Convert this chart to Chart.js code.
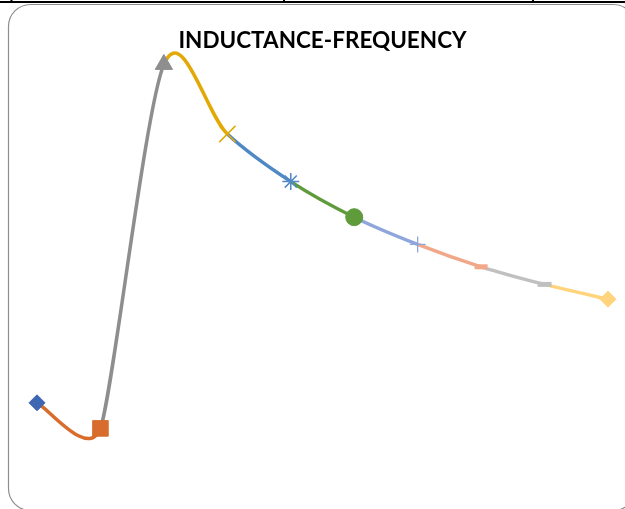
<!DOCTYPE html>
<html>
<head>
<meta charset="utf-8">
<script src="https://cdn.jsdelivr.net/npm/chart.js@4/dist/chart.umd.min.js"></script>
<style>
  html, body { margin: 0; padding: 0; background: #ffffff; }
  #wrap { width: 625px; height: 509px; position: relative; }
</style>
</head>
<body>
<div id="wrap"><canvas id="chart" width="625" height="509"></canvas></div>
<script>
// Measured frequency steps (category axis, not displayed)
const frequencies = ['1', '2', '3', '4', '5', '6', '7', '8', '9', '10'];
// Inductance reading at each step
const inductance = [1.43, 0.79, 9.89, 8.15, 6.96, 6.07, 5.39, 4.83, 4.39, 4.02];

// One colour / marker per series; series n runs from point n-1 to point n
const seriesColors = ['#3F66B2', '#D86C2C', '#8E8E8E', '#E2A906', '#4F88C4',
                      '#5F9B3B', '#8EA6DC', '#F1A889', '#C0C0C0', '#FFD47C'];
const markerStyles = ['rectRot', 'rect', 'triangle', 'crossRot', 'star',
                      'circle', 'cross', 'line', 'line', 'rectRot'];
const markerRadius = [8, 11, 10, 11.5, 8.5, 8.5, 8, 6.5, 7, 8];
const markerBorder = [1, 1, 1, 1.5, 1.5, 1, 1.3, 5, 5, 1];
const filledStyles = ['rectRot', 'rect', 'triangle', 'circle'];

// Spreadsheet-style smoothing: tangent along (next - prev), handle length
// limited to a sixth of that span and half of each neighbouring segment.
const smoothPlugin = {
  id: 'sheetSmoothing',
  beforeDatasetDraw(chart, args) {
    const meta = args.meta;
    const line = meta.dataset;
    if (!line) return;
    line.updateControlPoints(chart.chartArea, 'x');
    const pts = meta.data;
    for (let i = 0; i < pts.length; i++) {
      const cur = pts[i];
      const prev = pts[i - 1] || cur;
      const next = pts[i + 1] || cur;
      const dx = next.x - prev.x, dy = next.y - prev.y;
      const span = Math.hypot(dx, dy) || 1;
      const dPrev = Math.hypot(cur.x - prev.x, cur.y - prev.y);
      const dNext = Math.hypot(next.x - cur.x, next.y - cur.y);
      let len = span / 6;
      if (dPrev > 0) len = Math.min(len, dPrev / 2);
      if (dNext > 0) len = Math.min(len, dNext / 2);
      const ux = dx / span, uy = dy / span;
      cur.cp1x = cur.x - ux * len;
      cur.cp1y = cur.y - uy * len;
      cur.cp2x = cur.x + ux * len;
      cur.cp2y = cur.y + uy * len;
    }
  }
};

// Page background, cell border above and rounded chart frame
const framePlugin = {
  id: 'frame',
  beforeDraw(chart) {
    const ctx = chart.ctx;
    ctx.save();
    ctx.fillStyle = '#ffffff';
    ctx.fillRect(0, 0, chart.width, chart.height);

    ctx.strokeStyle = '#000000';
    ctx.lineWidth = 2;
    ctx.beginPath();
    ctx.moveTo(0, 2);
    ctx.lineTo(chart.width, 2);
    ctx.stroke();
    [11.5, 284, 533].forEach(x => {
      ctx.beginPath();
      ctx.moveTo(x, 0);
      ctx.lineTo(x, 3);
      ctx.stroke();
    });

    const x = 8.5, y = 4.5, w = 627, h = 506, r = 22;
    ctx.strokeStyle = '#8E8E8E';
    ctx.lineWidth = 1.2;
    ctx.beginPath();
    ctx.moveTo(x + r, y);
    ctx.lineTo(x + w - r, y);
    ctx.arcTo(x + w, y, x + w, y + r, r);
    ctx.lineTo(x + w, y + h - r);
    ctx.arcTo(x + w, y + h, x + w - r, y + h, r);
    ctx.lineTo(x + r, y + h);
    ctx.arcTo(x, y + h, x, y + h - r, r);
    ctx.lineTo(x, y + r);
    ctx.arcTo(x, y, x + r, y, r);
    ctx.closePath();
    ctx.stroke();
    ctx.restore();
  }
};

new Chart(document.getElementById('chart'), {
  type: 'line',
  data: {
    labels: frequencies,
    datasets: [{
      label: 'Inductance',
      data: inductance,
      tension: 0.5,
      borderWidth: 3.5,
      borderColor: seriesColors[1],
      segment: {
        borderColor: c => seriesColors[c.p1DataIndex]
      },
      pointStyle: markerStyles,
      pointRadius: markerRadius,
      pointHoverRadius: markerRadius,
      pointBorderWidth: markerBorder,
      pointBorderColor: seriesColors,
      pointBackgroundColor: seriesColors.map((c, i) =>
        filledStyles.includes(markerStyles[i]) ? c : 'transparent'),
      clip: false,
      fill: false
    }]
  },
  options: {
    responsive: false,
    animation: false,
    events: [],
    layout: { padding: { left: 37, right: 17, top: 0, bottom: 49 } },
    scales: {
      x: { display: false },
      y: { display: false, min: 0, max: 10 }
    },
    plugins: {
      legend: { display: false },
      tooltip: { enabled: false },
      title: {
        display: true,
        text: 'INDUCTANCE-FREQUENCY',
        color: '#000000',
        font: { family: 'Lato', size: 22.5, weight: 'bold', lineHeight: 1.2 },
        padding: { top: 27.5, bottom: 5.5 }
      }
    }
  },
  plugins: [framePlugin, smoothPlugin]
});
</script>
</body>
</html>
